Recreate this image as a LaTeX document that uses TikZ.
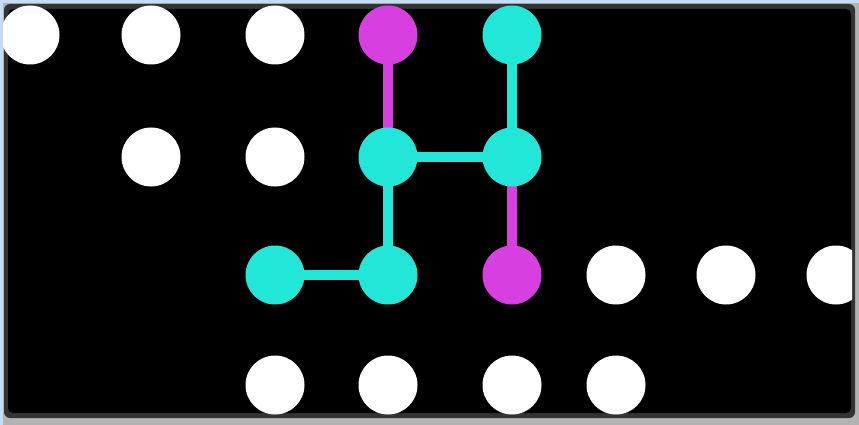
\documentclass[tikz,border=0pt]{standalone}
\usetikzlibrary{backgrounds}
\definecolor{panelblue}{HTML}{C7DBF3}
\definecolor{dotcyan}{HTML}{22E6D8}
\definecolor{dotpink}{HTML}{D83FE0}
\tikzset{
  dot/.style={circle,fill=white,inner sep=0pt,minimum size=59pt},
  cyandot/.style={dot,fill=dotcyan},
  pinkdot/.style={dot,fill=dotpink},
  cyanbar/.style={dotcyan,line width=10pt},
  pinkbar/.style={dotpink,line width=10pt}
}
\begin{document}
\begin{tikzpicture}[x=1pt,y=-1pt]
            \useasboundingbox (0,0) rectangle (859,425);
            \clip (3,4) rectangle (852,417);

            % top row
            \node[dot] (a1) at (30,35) {};
            \node[dot] (a2) at (151,35) {};
            \node[dot] (a3) at (275,35) {};
            \node[pinkdot] (a4) at (388,35) {};
            \node[cyandot] (a5) at (512,35) {};

            % second row
            \node[dot] (b2) at (151,157) {};
            \node[dot] (b3) at (275,157) {};
            \node[cyandot] (b4) at (388,157) {};
            \node[cyandot] (b5) at (512,157) {};

            % third row
            \node[cyandot] (c3) at (275,275) {};
            \node[cyandot] (c4) at (388,275) {};
            \node[pinkdot] (c5) at (512,275) {};
            \node[dot] (c6) at (616,275) {};
            \node[dot] (c7) at (726,275) {};
            \node[dot] (c8) at (836,275) {};

            % bottom row
            \node[dot] (d3) at (275,385) {};
            \node[dot] (d4) at (388,385) {};
            \node[dot] (d5) at (512,385) {};
            \node[dot] (d6) at (616,385) {};

            \begin{pgfonlayer}{background}
            % frame
            \fill[panelblue] (0,0) rectangle (859,425);
            \fill[gray!60] (3,3) rectangle (859,425);
            \fill[black!80,rounded corners=6pt] (4,4) rectangle (855,418);
            \fill[black,rounded corners=5pt] (8,9) rectangle (851,413);
            % bars
            \draw[pinkbar] (a4.center) -- (b4.center);
            \draw[cyanbar] (a5.center) -- (b5.center);
            \draw[cyanbar] (b4.center) -- (b5.center);
            \draw[cyanbar] (b4.center) -- (c4.center);
            \draw[pinkbar] (b5.center) -- (c5.center);
            \draw[cyanbar] (c3.center) -- (c4.center);
            \end{pgfonlayer}
        \end{tikzpicture}
\end{document}
